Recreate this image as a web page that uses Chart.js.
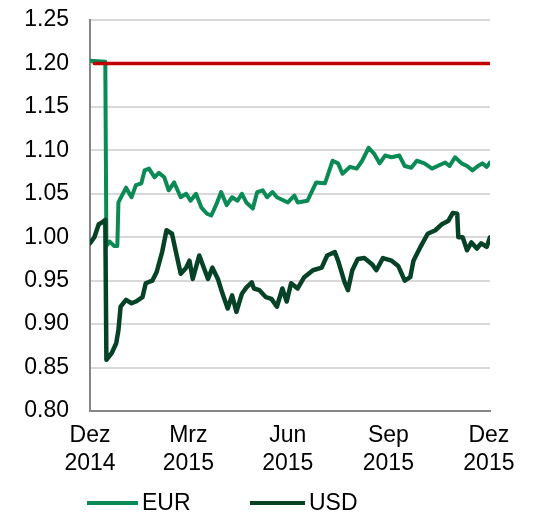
<!DOCTYPE html>
<html lang="de">
<head>
    <meta charset="UTF-8">
    <title>EUR und USD in CHF</title>
    <script src="https://cdn.jsdelivr.net/npm/chart.js"></script>
    <style>
        body { margin: 0; background: #fff; }
        canvas { display: block; }
    </style>
</head>
<body>
    <canvas id="fx-chart" width="535" height="513"></canvas>

    <script>
        // days counted from 31 Dec 2014
        const tickDays = [0, 90, 181, 273, 365];
        const tickLabels = [['Dez', '2014'], ['Mrz', '2015'], ['Jun', '2015'], ['Sep', '2015'], ['Dez', '2015']];

        const eurDays = [0, 14, 15, 18, 22, 25, 26, 28, 33, 38, 42, 47, 50, 54, 59, 63, 68, 72, 77, 83, 88, 92, 97, 102, 107, 111,
            116, 120, 125, 130, 135, 139, 143, 149, 153, 158, 162, 167, 171, 181, 187, 190, 199, 207, 215, 222, 227, 231,
            238, 244, 249, 255, 260, 265, 270, 276, 283, 288, 294, 299, 306, 313, 318, 325, 329, 334, 340, 345, 350, 355,
            359, 363, 366];
        const eurValues = [1.203, 1.202, 0.99, 0.995, 0.99, 0.99, 1.04, 1.045, 1.057, 1.046, 1.06, 1.062, 1.077, 1.079, 1.069,
            1.074, 1.069, 1.054, 1.063, 1.046, 1.05, 1.042, 1.05, 1.034, 1.027, 1.025, 1.039, 1.052, 1.037, 1.046, 1.042,
            1.05, 1.04, 1.033, 1.052, 1.054, 1.046, 1.052, 1.046, 1.04, 1.048, 1.04, 1.042, 1.063, 1.062, 1.088, 1.085,
            1.073, 1.081, 1.079, 1.088, 1.103, 1.096, 1.085, 1.094, 1.092, 1.094, 1.082, 1.08, 1.088, 1.085, 1.079, 1.082,
            1.086, 1.082, 1.092, 1.085, 1.082, 1.077, 1.082, 1.085, 1.081, 1.086];

        const usdDays = [0, 4, 8, 11, 14, 15, 20, 24, 26, 28, 33, 38, 42, 48, 51, 57, 61, 66, 70, 75, 79, 83, 88, 91, 94, 100,
            105, 108, 112, 117, 121, 126, 130, 134, 139, 143, 148, 150, 155, 161, 166, 171, 176, 180, 184, 190, 196, 204,
            212, 217, 224, 227, 233, 236, 240, 245, 251, 258, 262, 268, 276, 282, 288, 293, 296, 300, 302, 309, 316, 322,
            328, 332, 336, 337, 341, 345, 349, 354, 358, 363, 366];
        const usdValues = [0.993, 1.0, 1.015, 1.017, 1.02, 0.859, 0.867, 0.878, 0.893, 0.92, 0.928, 0.924, 0.926, 0.931, 0.947,
            0.95, 0.96, 0.983, 1.008, 1.004, 0.981, 0.958, 0.965, 0.973, 0.952, 0.979, 0.962, 0.952, 0.965, 0.952, 0.936,
            0.918, 0.933, 0.914, 0.935, 0.942, 0.948, 0.941, 0.939, 0.931, 0.929, 0.92, 0.941, 0.926, 0.947, 0.941, 0.954,
            0.962, 0.965, 0.979, 0.983, 0.973, 0.948, 0.939, 0.962, 0.975, 0.976, 0.969, 0.962, 0.976, 0.973, 0.967, 0.95,
            0.954, 0.973, 0.983, 0.988, 1.004, 1.008, 1.015, 1.019, 1.028, 1.027, 1.0, 1.0, 0.985, 0.994, 0.987, 0.993,
            0.989, 1.0];

        // EUR/CHF minimum rate line
        const floorDays = [4, 365];
        const floorValues = [1.2, 1.2];

        const EUR_COLOR = '#0a8a55';
        const USD_COLOR = '#064226';
        const FLOOR_COLOR = '#c00000';
        const FONT = { family: '"Liberation Sans", Arial, sans-serif', size: 23 };

        const toPoints = (days, values) => days.map((d, i) => ({ x: d, y: values[i] }));

        // legend drawn under the axis labels, left of centre like the original
        const bottomLegend = {
            id: 'bottomLegend',
            afterDraw(chart) {
                const ctx = chart.ctx;
                const items = [
                    { ds: chart.data.datasets[2], x: 87, len: 51 },
                    { ds: chart.data.datasets[1], x: 250, len: 55 }
                ];
                const y = 503;
                ctx.save();
                ctx.font = FONT.size + 'px ' + FONT.family;
                ctx.textBaseline = 'middle';
                ctx.fillStyle = '#000';
                items.forEach(item => {
                    ctx.strokeStyle = item.ds.borderColor;
                    ctx.lineWidth = 4;
                    ctx.beginPath();
                    ctx.moveTo(item.x, y);
                    ctx.lineTo(item.x + item.len, y);
                    ctx.stroke();
                    ctx.fillText(item.ds.label, item.x + item.len + 4, y + 1);
                });
                ctx.restore();
            }
        };

        const ctx = document.getElementById('fx-chart').getContext('2d');
        new Chart(ctx, {
            type: 'line',
            data: {
                datasets: [
                    {
                        label: 'Mindestkurs',
                        data: toPoints(floorDays, floorValues),
                        borderColor: FLOOR_COLOR,
                        borderWidth: 3.5,
                        order: 0
                    },
                    {
                        label: 'USD',
                        data: toPoints(usdDays, usdValues),
                        borderColor: USD_COLOR,
                        borderWidth: 4.5,
                        order: 1
                    },
                    {
                        label: 'EUR',
                        data: toPoints(eurDays, eurValues),
                        borderColor: EUR_COLOR,
                        borderWidth: 4,
                        order: 2
                    }
                ]
            },
            options: {
                responsive: false,
                animation: false,
                parsing: false,
                elements: {
                    point: { radius: 0 },
                    line: { tension: 0, borderJoinStyle: 'round', borderCapStyle: 'round', fill: false }
                },
                layout: { padding: { top: 20, right: 45, left: 0, bottom: 0 } },
                plugins: {
                    legend: { display: false },
                    tooltip: { enabled: false }
                },
                scales: {
                    x: {
                        type: 'linear',
                        min: 0,
                        max: 366,
                        afterBuildTicks: scale => { scale.ticks = tickDays.map(v => ({ value: v })); },
                        afterFit: scale => { scale.height = 102; },
                        grid: { display: false, drawTicks: false },
                        border: { color: '#868686', width: 2 },
                        ticks: {
                            autoSkip: false,
                            maxRotation: 0,
                            padding: 11,
                            color: '#000',
                            font: { ...FONT, lineHeight: 1.22 },
                            callback: (value, index) => tickLabels[index]
                        }
                    },
                    y: {
                        min: 0.8,
                        max: 1.25,
                        afterFit: scale => {
                            scale.width = 90;
                            scale.paddingTop = 0;
                            scale.paddingBottom = 0;
                        },
                        grid: { color: '#d9d9d9', lineWidth: 2, drawTicks: false },
                        border: { color: '#868686', width: 2 },
                        ticks: {
                            stepSize: 0.05,
                            padding: 21,
                            color: '#000',
                            font: FONT,
                            callback: value => value.toFixed(2)
                        }
                    }
                }
            },
            plugins: [bottomLegend]
        });
    </script>
</body>
</html>
